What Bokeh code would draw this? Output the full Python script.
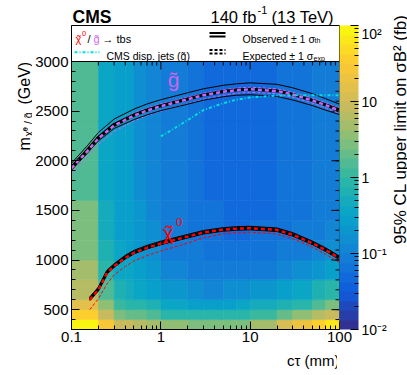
import numpy as np
from bokeh.plotting import figure
from bokeh.layouts import row, column
from bokeh.models import (Range1d, FixedTicker, CustomJSTickFormatter, LogColorMapper,
                          ColumnDataSource, ColorBar, Span)
from bokeh.embed import file_html
from bokeh.resources import INLINE
from bokeh.core.properties import value

FONT = "Liberation Sans"
RED = "#ff0000"
VIOLET = "#cc66ee"
CYAN = "#00dede"

# ---------------- data ----------------
ct_edges = [0.1, 0.2, 0.3, 0.4, 0.5, 0.7, 1, 2, 3, 5, 7, 10, 20, 30, 50, 70, 100]
mass_edges = [300, 400, 500, 600, 800, 1000, 1200, 1400, 1600, 2000, 2400, 3000]
# 95% CL upper limit (fb), rows = mass bins (bottom to top), cols = ctau bins
limit_m300 = [100, 28, 9, 8, 6, 5, 3.5, 3.0, 3.0, 3.0, 3.0, 5.0, 11, 20, 38, 70]
limit_m400 = [40, 8, 2.5, 2.0, 1.8, 1.5, 1.0, 0.8, 0.8, 0.8, 0.9, 1.3, 2.0, 3.5, 6.0, 10]
limit_m500 = [14, 3.5, 1.2, 1.0, 0.8, 0.6, 0.4, 0.3, 0.3, 0.3, 0.35, 0.45, 0.65, 1.0, 1.6, 2.5]
limit_m600 = [7, 1.5, 0.6, 0.5, 0.35, 0.28, 0.2, 0.14, 0.13, 0.14, 0.16, 0.2, 0.28, 0.4, 0.6, 1.0]
limit_m800 = [4.5, 1.0, 0.42, 0.32, 0.25, 0.18, 0.12, 0.09, 0.08, 0.08, 0.08, 0.09, 0.11, 0.15, 0.2, 0.28]
limit_m1000 = [2.8, 0.65, 0.32, 0.26, 0.19, 0.15, 0.1, 0.075, 0.065, 0.06, 0.06, 0.065, 0.075, 0.09, 0.11, 0.14]
limit_m1200 = [2.8, 0.48, 0.3, 0.25, 0.18, 0.14, 0.09, 0.068, 0.06, 0.055, 0.055, 0.058, 0.065, 0.075, 0.09, 0.11]
limit_m1400 = [2.8, 0.45, 0.3, 0.25, 0.18, 0.13, 0.085, 0.065, 0.058, 0.054, 0.054, 0.055, 0.06, 0.07, 0.085, 0.1]
limit_m1600 = [1.7, 0.42, 0.3, 0.25, 0.17, 0.12, 0.08, 0.062, 0.056, 0.053, 0.053, 0.054, 0.058, 0.066, 0.08, 0.1]
limit_m2000 = [1.7, 0.42, 0.3, 0.25, 0.17, 0.12, 0.078, 0.06, 0.055, 0.052, 0.052, 0.053, 0.057, 0.065, 0.078, 0.098]
limit_m2400 = [1.7, 0.42, 0.3, 0.25, 0.17, 0.12, 0.078, 0.06, 0.055, 0.052, 0.052, 0.053, 0.057, 0.065, 0.078, 0.098]
limit_rows = [limit_m300, limit_m400, limit_m500, limit_m600, limit_m800, limit_m1000,
              limit_m1200, limit_m1400, limit_m1600, limit_m2000, limit_m2400]

ct_glu = [0.1, 0.15, 0.2, 0.3, 0.5, 0.7, 1, 2, 3, 5, 7, 10, 20, 30, 50, 70, 100]
glu_obs = [1940, 2110, 2240, 2370, 2465, 2515, 2558, 2625, 2665, 2700, 2715, 2722, 2705, 2670, 2610, 2565, 2515]
glu_th_up = [1975, 2150, 2285, 2420, 2520, 2572, 2615, 2685, 2725, 2760, 2775, 2785, 2770, 2735, 2675, 2625, 2570]
glu_th_dn = [1905, 2075, 2200, 2325, 2415, 2462, 2505, 2570, 2610, 2645, 2660, 2665, 2648, 2612, 2555, 2510, 2465]
glu_exp = [1925, 2095, 2225, 2355, 2455, 2505, 2550, 2620, 2660, 2695, 2712, 2720, 2703, 2668, 2607, 2560, 2505]
glu_exp_up = [1950, 2120, 2250, 2380, 2480, 2530, 2573, 2640, 2680, 2715, 2732, 2740, 2725, 2690, 2630, 2585, 2530]
glu_exp_dn = [1870, 2035, 2165, 2295, 2400, 2455, 2500, 2575, 2620, 2660, 2680, 2690, 2675, 2640, 2580, 2532, 2478]

ct_neu = [0.16, 0.2, 0.25, 0.3, 0.4, 0.5, 0.7, 1, 2, 3, 5, 7, 10, 20, 30, 50, 70, 100]
neu_obs = [610, 710, 880, 945, 1030, 1080, 1130, 1172, 1240, 1280, 1308, 1318, 1322, 1305, 1258, 1172, 1105, 1022]
neu_th_up = [628, 728, 898, 963, 1048, 1098, 1148, 1190, 1258, 1298, 1326, 1336, 1340, 1323, 1276, 1190, 1123, 1040]
neu_th_dn = [592, 692, 862, 927, 1012, 1062, 1112, 1154, 1222, 1262, 1290, 1300, 1304, 1287, 1240, 1154, 1087, 1004]
neu_exp = [600, 700, 870, 938, 1022, 1072, 1123, 1166, 1236, 1277, 1305, 1316, 1320, 1303, 1255, 1168, 1100, 1018]
neu_exp_up = [612, 712, 882, 950, 1034, 1084, 1135, 1178, 1248, 1289, 1317, 1328, 1332, 1315, 1267, 1180, 1112, 1030]
neu_exp_dn = [500, 610, 760, 850, 935, 990, 1045, 1090, 1170, 1225, 1262, 1275, 1280, 1262, 1215, 1128, 1058, 975]

ct_disp = [1, 1.5, 2, 3, 5, 7, 10, 20, 30, 50, 100]
disp_jets = [2245, 2340, 2410, 2510, 2580, 2615, 2638, 2657, 2660, 2660, 2660]

x_ticks = [0.1, 1, 10, 100]
y_ticks = [500, 1000, 1500, 2000, 2500, 3000]
z_ticks = [0.01, 0.1, 1, 10, 100]

# ---------------- palette (ROOT kBird) ----------------
stops = [0.0, 0.125, 0.25, 0.375, 0.5, 0.625, 0.75, 0.875, 1.0]
red_s = [0.2082, 0.0592, 0.0780, 0.0232, 0.1802, 0.5301, 0.8186, 0.9956, 0.9764]
green_s = [0.1664, 0.3599, 0.5041, 0.6419, 0.7178, 0.7492, 0.7328, 0.7862, 0.9832]
blue_s = [0.5293, 0.8684, 0.8385, 0.7914, 0.6425, 0.4662, 0.3499, 0.1968, 0.0539]
NCOL = 32
palette = []
for i in range(NCOL):
    f = (i + 0.5) / NCOL
    rgb = [int(round(255 * np.interp(f, stops, ch))) for ch in (red_s, green_s, blue_s)]
    palette.append("#%02x%02x%02x" % tuple(rgb))
mapper = LogColorMapper(palette=palette, low=0.01, high=100)

L_, R_, B_, T_, V_ = [], [], [], [], []
for j in range(len(mass_edges) - 1):
    for i in range(len(ct_edges) - 1):
        L_.append(ct_edges[i]); R_.append(ct_edges[i + 1])
        B_.append(mass_edges[j]); T_.append(mass_edges[j + 1])
        V_.append(limit_rows[j][i])
heat = ColumnDataSource(dict(l=L_, r=R_, b=B_, t=T_, v=V_))

# ---------------- geometry (page pixels) ----------------
LW = 32                 # y-title strip width
ML = 37                 # left border of main figure (tick labels)
FW = 268                # frame width
PH = 268                # plot-region height
LH = 36                 # legend strip height (inside the frame)
FH = PH + LH
TH = 25                 # title strip height
MB = 20                 # bottom border (tick labels)
BH = 21                 # x-title strip height
MR = 52                 # right border (colour bar)
DW = 17                 # colour-bar title strip width
TOTAL_H = TH + FH + MB + BH
Y_LO, Y_HI = 300, 3000
PER_PX = (Y_HI - Y_LO) / PH
Y_TOP = Y_HI + LH * PER_PX
OX = LW + ML            # page x of ct = 0.1
OY = TH + LH            # page y of m = 3000

def xd(px):   # page x -> ctau (log axis)
    return 0.1 * 10 ** ((px - OX) / (FW / 3.0))

def yd(py):   # page y -> mass
    return Y_HI + (OY - py) * PER_PX

def strip(w, h, yflip=True, **kw):
    f = figure(x_range=Range1d(0, w), y_range=Range1d(h, 0) if yflip else Range1d(0, h),
               frame_width=w, frame_height=h, x_axis_location=None, y_axis_location=None,
               output_backend="svg", toolbar_location=None, **kw)
    f.grid.visible = False
    f.outline_line_color = None
    f.border_fill_color = "white"
    f.background_fill_color = "white"
    return f

def txt(fig, x, y, s, size, color="black", align="left", baseline="alphabetic",
        angle=0.0, style="normal"):
    fig.text(x=[x], y=[y], text=[s], text_font=value(FONT), text_font_size=size,
             text_color=color, text_align=align, text_baseline=baseline, angle=angle,
             text_font_style=style)

# ---------------- main plot ----------------
p = figure(x_axis_type="log", x_range=Range1d(0.1, 100), y_range=Range1d(Y_LO, Y_TOP),
           frame_width=FW, frame_height=FH, min_border_left=ML, min_border_right=MR,
           min_border_top=0, min_border_bottom=MB, output_backend="svg", toolbar_location=None)
p.grid.visible = False
p.outline_line_color = "black"
p.border_fill_color = "white"
p.background_fill_color = "white"

p.quad(left="l", right="r", bottom="b", top="t", source=heat,
       fill_color={"field": "v", "transform": mapper},
       line_color={"field": "v", "transform": mapper}, line_width=0.6)

x_minor = [d * k for d in (0.1, 1, 10) for k in range(2, 10)]
y_minor = list(range(300, 3001, 100))

p.xaxis.ticker = FixedTicker(ticks=x_ticks, minor_ticks=x_minor)
p.xaxis.formatter = CustomJSTickFormatter(code="return tick >= 1 ? tick.toFixed(0) : tick.toFixed(1);")
p.yaxis.ticker = FixedTicker(ticks=y_ticks, minor_ticks=y_minor)
for ax in (p.xaxis[0], p.yaxis[0]):
    ax.major_tick_in = 8
    ax.major_tick_out = 0
    ax.minor_tick_in = 4
    ax.minor_tick_out = 0
    ax.axis_line_color = "black"
    ax.major_tick_line_color = "black"
    ax.minor_tick_line_color = "black"
    ax.major_label_text_font = FONT
    ax.major_label_text_font_size = "15px"
    ax.major_label_text_color = "black"
p.xaxis.major_label_standoff = 2
p.yaxis.major_label_standoff = 3

# ticks on the upper and right edges of the plot region
p.ray(x=x_ticks, y=[Y_HI] * len(x_ticks), length=8, length_units="screen",
      angle=-np.pi / 2, line_color="black", line_width=1)
p.ray(x=x_minor, y=[Y_HI] * len(x_minor), length=4, length_units="screen",
      angle=-np.pi / 2, line_color="black", line_width=1)
p.ray(x=[100] * len(y_ticks), y=y_ticks, length=8, length_units="screen",
      angle=np.pi, line_color="black", line_width=1)
p.ray(x=[100] * len(y_minor), y=y_minor, length=4, length_units="screen",
      angle=np.pi, line_color="black", line_width=1)
p.add_layout(Span(location=Y_HI, dimension="width", line_color="black", line_width=1))

def draw_limits(ct, obs, th_up, th_dn, exp, exp_up, exp_dn, col):
    p.line(ct, exp_up, line_color=col, line_width=1, line_dash="3 2")
    p.line(ct, exp_dn, line_color=col, line_width=1, line_dash="3 2")
    p.line(ct, th_up, line_color="black", line_width=1)
    p.line(ct, th_dn, line_color="black", line_width=1)
    p.line(ct, obs, line_color="black", line_width=2.5)
    p.line(ct, exp, line_color="black", line_width=2.5)
    p.line(ct, exp, line_color=col, line_width=2.5, line_dash="4 3")

draw_limits(ct_neu, neu_obs, neu_th_up, neu_th_dn, neu_exp, neu_exp_up, neu_exp_dn, RED)
draw_limits(ct_glu, glu_obs, glu_th_up, glu_th_dn, glu_exp, glu_exp_up, glu_exp_dn, VIOLET)
p.line(ct_disp, disp_jets, line_color=CYAN, line_width=2, line_dash="3 2 1 2")

# particle labels on the plot (letter, tilde accent, superscript drawn separately)
txt(p, xd(171), yd(79), "g", "21px", VIOLET, align="center")
txt(p, xd(171), yd(79), "\u02dc", "21px", VIOLET, align="center")
txt(p, xd(160), yd(232), "\u03c7", "21px", RED)
txt(p, xd(166.5), yd(232), "\u02dc", "21px", RED, align="center")
txt(p, xd(173.5), yd(221), "0", "11.5px", RED)

# legend strip (inside the frame, above m = 3000)
txt(p, xd(73), yd(38), "\u03c7", "11px", RED)
txt(p, xd(76.3), yd(38), "\u02dc", "11px", RED, align="center")
txt(p, xd(79.5), yd(33), "0", "7.5px", RED)
txt(p, xd(85), yd(38), "/", "11px")
txt(p, xd(91), yd(38), "g", "11px", VIOLET)
txt(p, xd(94), yd(38), "\u02dc", "11px", VIOLET, align="center")
txt(p, xd(100), yd(38), "\u2192 tbs", "11px")
p.line([xd(207), xd(223)], [yd(32.5), yd(32.5)], line_color="black", line_width=2)
p.line([xd(207), xd(223)], [yd(36), yd(36)], line_color="black", line_width=2)
txt(p, xd(240), yd(38), "Observed \u00b1 1 \u03c3", "10.5px")
txt(p, xd(312), yd(40), "th", "7px")
p.line([xd(72), xd(97)], [yd(51.7), yd(51.7)], line_color=CYAN, line_width=2, line_dash="3 2 1 2")
txt(p, xd(104), yd(55.5), "CMS disp. jets (g\u0303)", "10.5px")
p.line([xd(207), xd(223)], [yd(49.5), yd(49.5)], line_color="black", line_width=2, line_dash="3 2")
p.line([xd(207), xd(223)], [yd(53), yd(53)], line_color="black", line_width=2, line_dash="3 2")
txt(p, xd(240), yd(55.5), "Expected \u00b1 1 \u03c3", "10.5px")
txt(p, xd(311), yd(57.5), "exp", "7px")

# colour bar
z_minor = [d * k for d in (0.01, 0.1, 1, 10) for k in range(2, 10)]
cb = ColorBar(color_mapper=mapper, ticker=FixedTicker(ticks=z_ticks, minor_ticks=z_minor),
              formatter=CustomJSTickFormatter(code="""
const e = Math.round(Math.log10(tick));
if (e == 0) return '1';
if (e == 1) return '10';
if (e == 2) return '10\u00b2';
if (e == -1) return '10\u207b\u00b9';
return '10\u207b\u00b2';
"""),
              width=19, height="auto", padding=0, margin=2, location=(0, 0),
              major_tick_in=8, major_tick_out=0, minor_tick_in=4, minor_tick_out=0,
              major_tick_line_color="black", minor_tick_line_color="black",
              bar_line_color=None, border_line_color=None, background_fill_color=None,
              major_label_text_font=FONT, major_label_text_font_size="14px",
              major_label_text_color="black", label_standoff=3)
p.add_layout(cb, "right")

# ---------------- title strip (above) ----------------
t = strip(FW, TH, min_border_left=ML, min_border_right=0, min_border_top=0, min_border_bottom=0)
txt(t, 1, 16, "CMS", "17.5px", style="bold")
txt(t, 139, 16, "140 fb", "16.5px")
txt(t, 186, 9.5, "-1", "11px")
txt(t, 200, 16, "(13 TeV)", "16.5px")

# ---------------- x-axis title strip (below) ----------------
b = strip(FW, BH, min_border_left=ML, min_border_right=0, min_border_top=0, min_border_bottom=0)
txt(b, FW, 11, "c\u03c4 (mm)", "15px", align="right")

# ---------------- y-axis title strip (left, read bottom to top) ----------------
l = strip(LW, TOTAL_H, yflip=False, min_border=0)
txt(l, 24, TOTAL_H - 150, "m", "16px", angle=np.pi / 2)
txt(l, 27, TOTAL_H - 136, "\u03c7\u0303\u2070 / g\u0303", "10.5px", angle=np.pi / 2)
txt(l, 24, TOTAL_H - 104, "(GeV)", "16px", angle=np.pi / 2)

# ---------------- colour-bar title strip (right) ----------------
d = strip(DW, TOTAL_H, yflip=False, min_border=0)
txt(d, 8.5, TOTAL_H - 14, "95% CL upper limit on \u03c3B\u00b2 (fb)", "17px",
    align="right", baseline="middle", angle=np.pi / 2)

layout = row(l, column(t, p, b), d)
with open("out.html", "w", encoding="utf-8") as fh:
    fh.write(file_html(layout, INLINE))
